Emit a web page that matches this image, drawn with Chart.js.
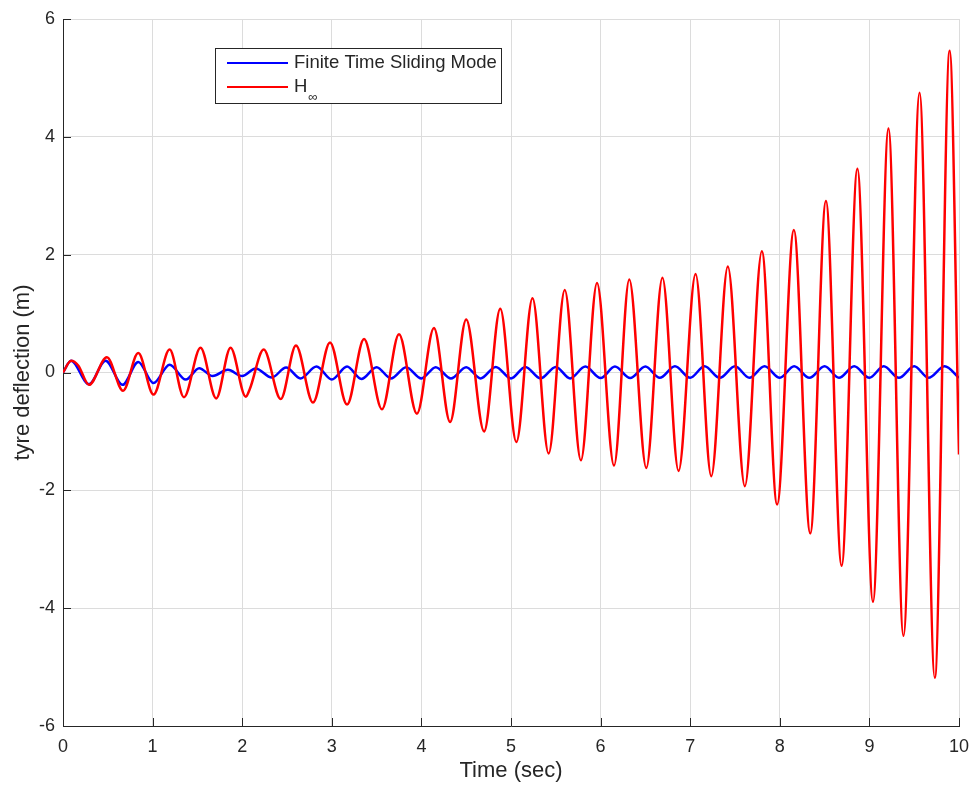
<!DOCTYPE html>
<html>
<head>
<meta charset="utf-8">
<script src="https://cdn.jsdelivr.net/npm/chart.js@4"></script>
<style>
  html, body { margin: 0; padding: 0; background: #fff; }
  #wrap { width: 973px; height: 785px; }
</style>
</head>
<body>
<div id="wrap"><canvas id="c" width="973" height="785"></canvas></div>
<script>
// Extrema (time in sec, deflection in m)
const hinfTime = [0, 0.09, 0.17, 0.29, 0.49, 0.67, 0.84, 1.01, 1.19, 1.35, 1.535, 1.71, 1.87, 2.04, 2.085, 2.24,
  2.43, 2.60, 2.79, 2.98, 3.17, 3.36, 3.56, 3.75, 3.95, 4.14, 4.32, 4.50, 4.70, 4.88, 5.06, 5.24, 5.42,
  5.60, 5.78, 5.96, 6.15, 6.32, 6.51, 6.69, 6.87, 7.06, 7.235, 7.42, 7.61, 7.80, 7.97, 8.157, 8.34, 8.515,
  8.69, 8.866, 9.04, 9.213, 9.38, 9.56, 9.73, 9.896, 10.0];
const hinfValue = [0, 0.2, 0.12, -0.21, 0.26, -0.31, 0.33, -0.375, 0.39, -0.42, 0.42, -0.44, 0.42, -0.41, -0.28, 0.39,
  -0.45, 0.46, -0.51, 0.51, -0.545, 0.57, -0.625, 0.65, -0.70, 0.755, -0.84, 0.90, -1.0, 1.08, -1.18, 1.26, -1.375,
  1.40, -1.49, 1.52, -1.58, 1.58, -1.62, 1.61, -1.67, 1.67, -1.76, 1.80, -1.93, 2.06, -2.24, 2.42, -2.73, 2.91,
  -3.28, 3.46, -3.89, 4.14, -4.47, 4.75, -5.18, 5.46, -1.39];

const smcTime = [0, 0.09, 0.29, 0.475, 0.665, 0.84, 1.01, 1.19, 1.37, 1.52, 1.67, 1.84, 2.0, 2.15, 2.33, 2.49,
  2.65, 2.83, 3.0, 3.17, 3.33, 3.50, 3.66, 3.83, 4.0, 4.16, 4.33, 4.50, 4.66, 4.83, 5.0, 5.16, 5.33, 5.50,
  5.66, 5.83, 6.0, 6.16, 6.33, 6.50, 6.66, 6.83, 7.0, 7.16, 7.33, 7.50, 7.66, 7.83, 8.0, 8.16, 8.33, 8.50,
  8.66, 8.83, 9.0, 9.16, 9.33, 9.50, 9.66, 9.84, 10.0];
const smcValue = [0, 0.2, -0.2, 0.2, -0.21, 0.18, -0.18, 0.13, -0.12, 0.074, -0.06, 0.045, -0.06, 0.07, -0.085, 0.085,
  -0.1, 0.1, -0.12, 0.1, -0.11, 0.09, -0.1, 0.09, -0.1, 0.09, -0.1, 0.09, -0.1, 0.095, -0.1, 0.095, -0.1, 0.095,
  -0.1, 0.1, -0.095, 0.1, -0.095, 0.1, -0.09, 0.105, -0.09, 0.105, -0.09, 0.105, -0.09, 0.105, -0.09, 0.105, -0.09, 0.105,
  -0.09, 0.105, -0.09, 0.105, -0.09, 0.105, -0.09, 0.105, -0.09];

const xTicks = [0, 1, 2, 3, 4, 5, 6, 7, 8, 9, 10];
const yTicks = [-6, -4, -2, 0, 2, 4, 6];

const seriesNames = ['Finite Time Sliding Mode', 'H'];
const seriesColors = ['#0000ff', '#ff0000'];

const FONT = 'Helvetica, "Liberation Sans", Arial, sans-serif';
const TEXT = '#262626';

function toPoints(xs, ys) {
    return xs.map((x, i) => ({ x: x, y: ys[i] }));
}

// MATLAB style: inward tick marks on left and bottom axes
const inwardTicks = {
    id: 'inwardTicks',
    afterDraw(chart) {
        const ctx = chart.ctx;
        const area = chart.chartArea;
        const xs = chart.scales.x;
        const ys = chart.scales.y;
        ctx.save();
        ctx.strokeStyle = '#262626';
        ctx.lineWidth = 1;
        ctx.beginPath();
        xTicks.forEach(v => {
            const px = Math.round(xs.getPixelForValue(v)) + 0.5;
            ctx.moveTo(px, area.bottom);
            ctx.lineTo(px, area.bottom - 8);
        });
        yTicks.forEach(v => {
            const py = Math.round(ys.getPixelForValue(v)) + 0.5;
            ctx.moveTo(area.left, py);
            ctx.lineTo(area.left + 8, py);
        });
        ctx.stroke();
        ctx.restore();
    }
};

// Legend box with subscript infinity
const boxLegend = {
    id: 'boxLegend',
    afterDraw(chart) {
        const ctx = chart.ctx;
        const a = chart.chartArea;
        const bx = a.left + 152, by = a.top + 29, bw = 286, bh = 55;
        ctx.save();
        ctx.fillStyle = '#fff';
        ctx.fillRect(bx, by, bw, bh);
        ctx.strokeStyle = '#262626';
        ctx.lineWidth = 1;
        ctx.strokeRect(bx + 0.5, by + 0.5, bw, bh);

        const rows = [by + 15, by + 39];
        ctx.lineWidth = 2;
        rows.forEach((ry, i) => {
            ctx.strokeStyle = seriesColors[i];
            ctx.beginPath();
            ctx.moveTo(bx + 12, ry);
            ctx.lineTo(bx + 73, ry);
            ctx.stroke();
        });

        ctx.fillStyle = TEXT;
        ctx.textBaseline = 'middle';
        ctx.font = '18.5px ' + FONT;
        ctx.fillText(seriesNames[0], bx + 79, rows[0]);
        ctx.fillText(seriesNames[1], bx + 79, rows[1]);
        const hw = ctx.measureText(seriesNames[1]).width;
        ctx.font = '13px ' + FONT;
        ctx.fillText('\u221E', bx + 80 + hw, rows[1] + 10);
        ctx.restore();
    }
};

new Chart(document.getElementById('c'), {
    type: 'line',
    data: {
        datasets: [
            {
                label: seriesNames[0],
                data: toPoints(smcTime, smcValue),
                borderColor: seriesColors[0],
                borderWidth: 2.5,
                pointRadius: 0,
                cubicInterpolationMode: 'monotone',
                order: 2
            },
            {
                label: seriesNames[1],
                data: toPoints(hinfTime, hinfValue),
                borderColor: seriesColors[1],
                borderWidth: 2.5,
                pointRadius: 0,
                cubicInterpolationMode: 'monotone',
                order: 1
            }
        ]
    },
    options: {
        responsive: false,
        animation: false,
        parsing: false,
        layout: { padding: { top: 19, right: 14, left: 0, bottom: 0 } },
        plugins: {
            legend: { display: false },
            tooltip: { enabled: false }
        },
        scales: {
            x: {
                type: 'linear',
                min: 0,
                max: 10,
                afterBuildTicks: s => { s.ticks = xTicks.map(v => ({ value: v })); },
                afterFit: s => { s.height = 59; s.paddingLeft = 0; s.paddingRight = 0; },
                grid: { color: '#dcdcdc', lineWidth: 1, drawTicks: false },
                border: { display: true, color: '#262626', width: 1 },
                ticks: { color: TEXT, font: { family: FONT, size: 18 }, padding: 10, maxRotation: 0 },
                title: {
                    display: true,
                    text: 'Time (sec)',
                    color: TEXT,
                    font: { family: FONT, size: 22 },
                    padding: { top: 0, bottom: 1 }
                }
            },
            y: {
                type: 'linear',
                min: -6,
                max: 6,
                afterBuildTicks: s => { s.ticks = yTicks.map(v => ({ value: v })); },
                afterFit: s => { s.width = 63; s.paddingTop = 0; s.paddingBottom = 0; },
                grid: { color: '#dcdcdc', lineWidth: 1, drawTicks: false },
                border: { display: true, color: '#262626', width: 1 },
                ticks: { color: TEXT, font: { family: FONT, size: 18 }, padding: 8 },
                title: {
                    display: true,
                    text: 'tyre deflection (m)',
                    color: TEXT,
                    font: { family: FONT, size: 22 },
                    padding: { top: 10, bottom: 0 }
                }
            }
        }
    },
    plugins: [inwardTicks, boxLegend]
});
</script>
</body>
</html>
